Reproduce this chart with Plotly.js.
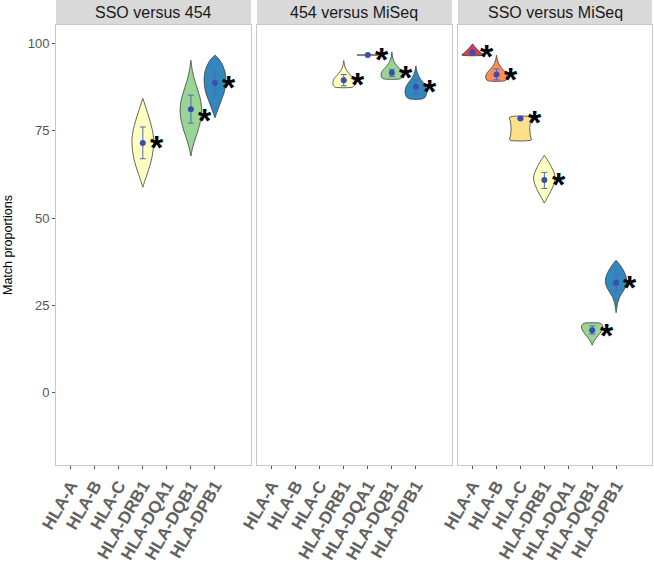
<!DOCTYPE html>
<html><head><meta charset="utf-8">
<script src="https://cdn.plot.ly/plotly-3.0.1.min.js"></script>
<style>html,body{margin:0;padding:0;background:#fff}</style>
</head><body><div id="chart" style="width:654px;height:573px"></div>
<script>
const panelTitles = ['SSO versus 454', '454 versus MiSeq', 'SSO versus MiSeq'];
const categories = ['HLA-A', 'HLA-B', 'HLA-C', 'HLA-DRB1', 'HLA-DQA1', 'HLA-DQB1', 'HLA-DPB1'];
const fillColors = ['#D53E4F', '#FC8D59', '#FEE08B', '#FFFFBF', '#E6F598', '#99D594', '#3288BD'];

// Panel 1: SSO versus 454
const meanSSO454 = [null, null, null, 71.5, null, 81.2, 88.7];
const lowSSO454  = [null, null, null, 67.0, null, 77.2, 85.5];
const highSSO454 = [null, null, null, 76.1, null, 85.2, 91.9];
const starSSO454 = [null, null, null, 71.5, null, 79.3, 88.6];
// Panel 2: 454 versus MiSeq
const mean454MiSeq = [null, null, null, 89.5, 96.7, 91.6, 87.6];
const low454MiSeq  = [null, null, null, 87.9, null, 90.6, 85.6];
const high454MiSeq = [null, null, null, 91.1, null, 92.6, 89.6];
const star454MiSeq = [null, null, null, 89.5, 96.7, 91.6, 87.5];
// Panel 3: SSO versus MiSeq
const meanSSOMiSeq = [97.4, 91.1, 78.5, 60.9, null, 17.9, 31.5];
const lowSSOMiSeq  = [null, 89.6, null, 58.5, null, 16.8, 29.1];
const highSSOMiSeq = [null, 92.7, null, 63.1, null, 19.1, 33.9];
const starSSOMiSeq = [97.5, 91.1, 78.6, 60.8, null, 17.8, 31.4];

// Violin outlines: [y, relative half-width]
const violinsSSO454 = [null, null, null,
  [[58.8,0],[61,0.22],[64,0.55],[67,0.82],[70,0.97],[72.5,1],[75,0.9],[78,0.65],[81,0.35],[84.3,0]],
  null,
  [[67.8,0],[70,0.15],[72.5,0.38],[75,0.65],[78,0.9],[81,1],[84,0.88],[87,0.6],[90,0.3],[92.5,0.12],[95.2,0]],
  [[78.7,0],[80,0.15],[82,0.38],[84,0.62],[86,0.85],[88,0.97],[90,1],[92,0.92],[94,0.68],[95.5,0.38],[96.7,0]]];
const violins454MiSeq = [null, null, null,
  [[87.5,0.8],[88,0.97],[89,1],[90,0.88],[91,0.6],[92,0.33],[93,0.15],[94,0.06],[95.1,0]],
  [[96.7,1],[96.7,1]],
  [[89.9,0.8],[90.4,0.97],[91.3,1],[92.3,0.85],[93.3,0.55],[94.3,0.3],[95.3,0.14],[96.4,0.05],[97.6,0]],
  [[84.1,0.55],[84.6,0.85],[85.5,0.98],[86.5,1],[87.5,0.93],[88.5,0.75],[89.5,0.5],[90.5,0.3],[91.5,0.15],[92.5,0.06],[93.6,0]]];
const violinsSSOMiSeq = [
  [[96.7,1],[97.4,0.75],[98.3,0.45],[99.1,0.2],[99.9,0]],
  [[89.3,0.75],[89.8,0.97],[90.7,1],[91.7,0.85],[92.7,0.55],[93.7,0.3],[94.7,0.14],[95.7,0.05],[96.7,0]],
  [[72.4,1],[73.5,0.93],[75.5,0.87],[77.5,0.92],[78.9,1]],
  [[54.3,0],[56,0.3],[58,0.65],[60,0.92],[61.5,1],[63,0.9],[65,0.6],[66.7,0.28],[68,0]],
  null,
  [[13.6,0],[14.2,0.08],[15,0.22],[16,0.45],[17,0.72],[18,0.93],[18.8,1],[19.5,0.92],[19.9,0.75]],
  [[22.9,0],[24.3,0.06],[25.8,0.15],[27.3,0.32],[28.8,0.6],[30.3,0.88],[31.8,1],[33.3,0.93],[34.8,0.72],[36.3,0.42],[37.3,0.18],[37.9,0]]];

const panels = [
  {violins: violinsSSO454, mean: meanSSO454, low: lowSSO454, high: highSSO454, star: starSSO454},
  {violins: violins454MiSeq, mean: mean454MiSeq, low: low454MiSeq, high: high454MiSeq, star: star454MiSeq},
  {violins: violinsSSOMiSeq, mean: meanSSOMiSeq, low: lowSSOMiSeq, high: highSSOMiSeq, star: starSSOMiSeq}
];

const HALF = 0.45, STAR_DX = 0.6;
const traces = [], annotations = [], shapes = [];
const domains = [[0, 0.3272], [0.3372, 0.6644], [0.6745, 1]];

panels.forEach((p, k) => {
  const xa = k === 0 ? 'x' : 'x' + (k + 1);
  const ya = k === 0 ? 'y' : 'y' + (k + 1);
  p.violins.forEach((prof, c) => {
    if (!prof) return;
    const xs = [], ys = [];
    prof.forEach(([y, w]) => { xs.push(c + HALF * w); ys.push(y); });
    for (let i = prof.length - 1; i >= 0; i--) { xs.push(c - HALF * prof[i][1]); ys.push(prof[i][0]); }
    xs.push(xs[0]); ys.push(ys[0]);
    traces.push({type: 'scatter', mode: 'lines', x: xs, y: ys, xaxis: xa, yaxis: ya,
      fill: 'toself', fillcolor: fillColors[c],
      line: {color: '#3a3a3a', width: 0.8, shape: 'spline', smoothing: 0.7},
      hoverinfo: 'skip', showlegend: false});
  });
  const px = [], py = [], ep = [], em = [];
  p.mean.forEach((m, c) => {
    if (m === null) return;
    px.push(c); py.push(m);
    ep.push(p.high[c] === null ? 0 : p.high[c] - m);
    em.push(p.low[c] === null ? 0 : m - p.low[c]);
  });
  traces.push({type: 'scatter', mode: 'markers', x: px, y: py, xaxis: xa, yaxis: ya,
    marker: {color: '#3B4DB0', size: 6},
    error_y: {type: 'data', symmetric: false, array: ep, arrayminus: em, color: '#5068B5', thickness: 1, width: 3},
    showlegend: false});
  p.star.forEach((s, c) => {
    if (s === null) return;
    annotations.push({x: c + STAR_DX, y: s, xref: xa, yref: ya, text: '*', showarrow: false,
      xanchor: 'center', yanchor: 'middle', yshift: -4,
      font: {family: 'Liberation Sans', size: 34, color: '#000', weight: 'bold'}});
  });
  shapes.push({type: 'rect', xref: xa + ' domain', yref: 'paper', x0: 0, x1: 1, y0: 1, y1: 1 + 25 / 440,
    fillcolor: '#D9D9D9', line: {width: 0}, layer: 'below'});
  annotations.push({xref: xa + ' domain', yref: 'paper', x: 0.5, y: 1 + 12.5 / 440, text: panelTitles[k],
    showarrow: false, xanchor: 'center', yanchor: 'middle',
    font: {family: 'Liberation Sans', size: 16, color: '#1a1a1a'}});
});

const layout = {
  width: 654, height: 573,
  margin: {l: 56, r: 2, t: 25, b: 108},
  paper_bgcolor: '#fff', plot_bgcolor: '#fff',
  showlegend: false,
  font: {family: 'Liberation Sans'},
  shapes: shapes, annotations: annotations
};
for (let k = 0; k < 3; k++) {
  const sx = k === 0 ? '' : String(k + 1);
  layout['xaxis' + sx] = {
    domain: domains[k], anchor: 'y' + sx, range: [-0.61, 7.5],
    tickmode: 'array', tickvals: categories.map((_, i) => i), ticktext: categories,
    tickangle: -60, ticks: 'outside', ticklen: 3, tickcolor: '#555', tickwidth: 1,
    tickfont: {family: 'Liberation Sans', size: 17, color: '#626262', weight: 'bold'},
    showgrid: false, zeroline: false, showline: true, mirror: true, linecolor: '#c8c8c8', linewidth: 1
  };
  layout['yaxis' + sx] = {
    anchor: 'x' + sx, range: [-20.7, 105.3],
    tickvals: [0, 25, 50, 75, 100], showticklabels: k === 0,
    ticks: k === 0 ? 'outside' : '', ticklen: 3, tickcolor: '#555', tickwidth: 1,
    tickfont: {family: 'Liberation Sans', size: 13, color: '#555'},
    showgrid: false, zeroline: false, showline: true, mirror: true, linecolor: '#c8c8c8', linewidth: 1,
    title: k === 0 ? {text: 'Match proportions', font: {family: 'Liberation Sans', size: 12.5, color: '#000'}, standoff: 12} : undefined
  };
  if (k > 0) layout['yaxis' + sx].matches = 'y';
}
Plotly.newPlot('chart', traces, layout, {displayModeBar: false, staticPlot: true});
</script>
</body></html>
